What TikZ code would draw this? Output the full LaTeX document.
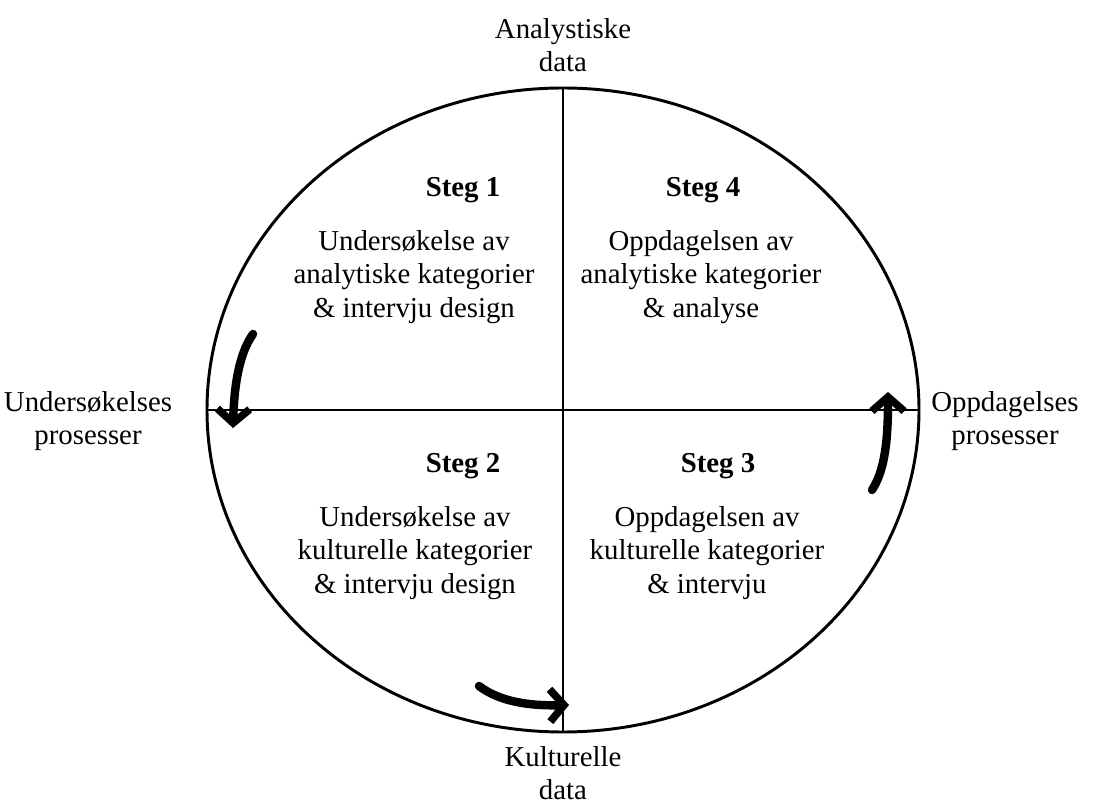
\documentclass[tikz,border=0pt]{standalone}
\usepackage{fontspec}
\setmainfont{Liberation Serif}
\usetikzlibrary{arrows.meta}

\begin{document}
\begin{tikzpicture}[x=0.025cm, y=-0.025cm, semithick,
    lbl/.style={align=center, font=\fontsize{20.5}{23.6}\selectfont},
    steg/.style={lbl, font=\fontsize{20.5}{23.6}\selectfont\bfseries},
    turn/.style={line width=6pt, line cap=round, -{Straight Barb[length=10pt, width=23pt, line width=5.4pt]}}]
                \useasboundingbox (0,0) rectangle (1093,806);
                \draw[line width=2.1pt] (563,410) ellipse [x radius=356, y radius=-322];
                \coordinate (top) at (563,88);
                \coordinate (bot) at (563,732);
                \coordinate (lft) at (207,410);
                \coordinate (rgt) at (919,410);
                \draw[line width=2.1pt] (top) -- (bot);
                \draw[line width=2.1pt] (lft) -- (rgt);
                \node[lbl] (an) at (563,45) {Analystiske\\data};
                \node[lbl] (ku) at (563,773) {Kulturelle\\data};
                \node[lbl] (un) at (88,421) {Undersøkelses\\prosesser};
                \node[lbl] (op) at (1005,421) {Oppdagelses\\prosesser};
                \node[steg] (s1) at (463,190) {Steg 1};
                \node[lbl] (t1) at (414,277) {Undersøkelse av\\analytiske kategorier\\\& intervju design};
                \node[steg] (s4) at (703,190) {Steg 4};
                \node[lbl] (t4) at (701,277) {Oppdagelsen av\\analytiske kategorier\\\& analyse};
                \node[steg] (s2) at (463,466) {Steg 2};
                \node[lbl] (t2) at (415,553) {Undersøkelse av\\kulturelle kategorier\\\& intervju design};
                \node[steg] (s3) at (718,466) {Steg 3};
                \node[lbl] (t3) at (707,553) {Oppdagelsen av\\kulturelle kategorier\\\& intervju};
                \coordinate (a1) at (253,334);
                \coordinate (b1) at (233,428);
                \coordinate (a2) at (479,686);
                \coordinate (b2) at (569,705);
                \coordinate (a3) at (872,490);
                \coordinate (b3) at (888,392);
                \draw[turn] (a1) .. controls (238,355) and (234,390) .. (b1);
                \draw[turn] (a2) .. controls (500,702) and (530,706) .. (b2);
                \draw[turn] (a3) .. controls (885,470) and (888,440) .. (b3);
            \end{tikzpicture}
\end{document}
